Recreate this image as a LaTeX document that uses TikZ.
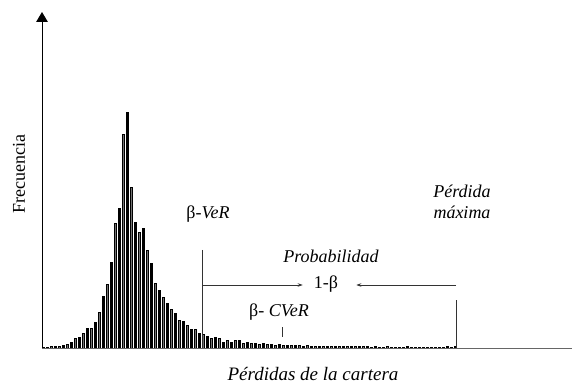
\documentclass[tikz,border=0pt]{standalone}
\usepackage{fontspec}
\setmainfont{Liberation Serif}
\usepackage{tikz}
\usetikzlibrary{arrows.meta}

\tikzset{
    bar/.style={draw=black, line width=0.5pt},
    marca/.style={draw=black!80, line width=0.9pt},
    flecha/.style={draw=black!80, line width=0.9pt, -{Stealth[length=5pt,width=3.5pt]}},
    texto/.style={inner sep=0pt, font=\fontsize{18}{21}\selectfont}
}

\begin{document}
\begin{tikzpicture}[x=1pt, y=-1pt]
        \useasboundingbox (0,0) rectangle (573,390);

        \coordinate (O) at (42,348);
        \coordinate (top) at (42,12);
        \coordinate (xend) at (572,348);

        % histograma de perdidas
        \foreach \h [count=\k from 0] in {1,1,1.3,1.7,2,2.3,4,6,9.3,11,14.7,20,20,26,36,51.7,64,85.3,124.3,140,
            214,235.7,160.7,125.3,115.7,120,98,84.3,65,57.7,50.7,45,38.7,35,28,27,22.7,18.7,18.7,14.7,
            14,11.3,9.3,10.7,9.3,6,7.3,6,7.7,7.7,5,6,4.5,5,4,4.5,3.5,4,3,3.5,
            3,2.5,3,2.5,2.5,2,2.5,2,2,2,1.5,2,1.5,1.5,2,1.5,1.5,1.5,1.5,2,
            1.5,1.5,1,1.5,1,1,1.5,1,1,1,1,1.5,1,1,0.4,1,1,1,1,0.4,1,1.5,0.4,1.5}{
            \ifodd\k
                \draw[bar, fill=black] ({43.5+4*\k-0.8},348) rectangle ++(1.6,-\h);
            \else
                \draw[bar, fill=black!55] ({43.5+4*\k-1.2},348) rectangle ++(2.4,-\h);
            \fi
        }

        \draw[black!60, line width=0.8pt] (O) -- (xend);
        \draw[-{Triangle[width=11.6pt,length=10pt]}, line width=1pt] (O) -- (top);

        \node[texto, rotate=90] at (19,174) (frec) {Frecuencia};
        \node[texto, font=\fontsize{19}{21}\selectfont] at (313,374) (perd) {\itshape Pérdidas de la cartera};

        \node[texto] at (208,214) (bvar) {β-\textit{VeR}};
        \coordinate (v1) at (202,250);
        \coordinate (v0) at (202,348);
        \draw[marca] (v1) -- (v0);

        \node[texto] at (331,256) (prob) {\itshape Probabilidad};
        \node[texto] at (326,284) (uno) {1-β};
        \coordinate (a1) at (202,285);
        \coordinate (a2) at (456,285);
        \draw[flecha] (a1) -- ([xshift=-11pt]uno.west |- a1);
        \draw[flecha] (a2) -- ([xshift=18pt]uno.east |- a2);

        \node[texto, align=center] at (462,202) (pmax) {\itshape Pérdida\\\itshape máxima};
        \coordinate (m1) at (456,300);
        \coordinate (m0) at (456,348);
        \draw[marca] (m1) -- (m0);

        \node[texto] at (279,312) (bcvar) {β- \textit{CVeR}};
        \coordinate (c1) at (282,327);
        \coordinate (c0) at (282,337);
        \draw[marca] (c1) -- (c0);
    \end{tikzpicture}
\end{document}
